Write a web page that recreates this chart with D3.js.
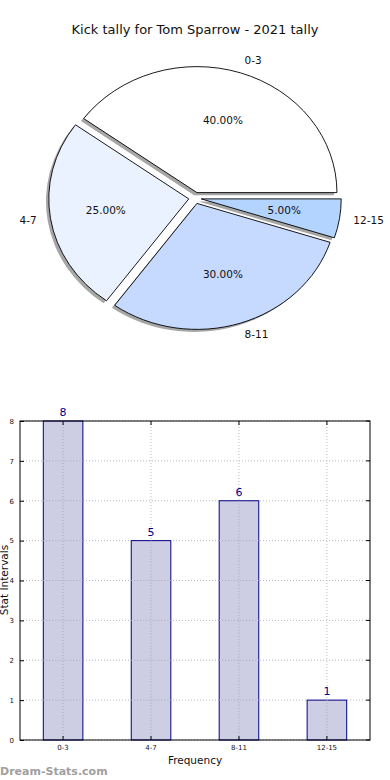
<!DOCTYPE html>
<html><head><meta charset="utf-8">
<script src="https://cdn.jsdelivr.net/npm/d3@7"></script>
<style>body{margin:0;background:#fff}svg{display:block;font-family:"DejaVu Sans",sans-serif}</style>
</head><body><svg id="c" width="390" height="780"></svg>
<script>
const categories = ["0-3","4-7","8-11","12-15"];
const counts = [8,5,6,1];
const pieColors = ["#ffffff","#eaf2ff","#c6d9ff","#b3d4ff"];
const yTicks = [0,1,2,3,4,5,6,7,8];
const title = "Kick tally for Tom Sparrow - 2021 tally";

const svg = d3.select("#c");
svg.append("text").attr("x",195).attr("y",30).attr("text-anchor","middle").attr("dominant-baseline","middle")
  .attr("font-size",13).attr("fill","#111").text(title);

// Pie (matplotlib style: start at 3 o'clock, counterclockwise, elliptical)
const cx=195, cy=198, rx=140, ry=126, R=100, explode=0.045;
const total = d3.sum(counts);
const pie = d3.pie().sort(null).startAngle(Math.PI/2).endAngle(Math.PI/2-2*Math.PI);
const arcs = pie(counts);
const arc = d3.arc().innerRadius(0).outerRadius(R);
const pg = svg.append("g");
function mplMid(a){ const d3mid=(a.startAngle+a.endAngle)/2; return Math.PI/2 - d3mid; }
arcs.forEach((a,i)=>{
  const th = mplMid(a);
  const ox = cx + explode*rx*Math.cos(th), oy = cy - explode*ry*Math.sin(th);
  pg.append("path").attr("d",arc(a))
    .attr("transform",`translate(${ox-0.02*rx},${oy+0.02*ry}) scale(${rx/R},${ry/R})`)
    .attr("fill","#000").attr("fill-opacity",0.35);
});
arcs.forEach((a,i)=>{
  const th = mplMid(a);
  const ox = cx + explode*rx*Math.cos(th), oy = cy - explode*ry*Math.sin(th);
  pg.append("path").attr("d",arc(a))
    .attr("transform",`translate(${ox},${oy}) scale(${rx/R},${ry/R})`)
    .attr("fill",pieColors[i]).attr("stroke","#000").attr("stroke-width",0.9)
    .attr("vector-effect","non-scaling-stroke");
  const lx = ox + 1.1*rx*Math.cos(th), ly = oy - 1.1*ry*Math.sin(th);
  pg.append("text").attr("x",lx).attr("y",ly).attr("dominant-baseline","middle")
    .attr("text-anchor", Math.cos(th)>=0?"start":"end").attr("font-size",10.5).attr("fill","#111")
    .text(categories[i]);
  const px = ox + 0.6*rx*Math.cos(th), py = oy - 0.6*ry*Math.sin(th);
  pg.append("text").attr("x",px).attr("y",py).attr("dominant-baseline","middle")
    .attr("text-anchor","middle").attr("font-size",10.5).attr("fill","#111")
    .text((counts[i]/total*100).toFixed(2)+"%");
});

// Bar chart
const L=20, Rr=370, T=421, B=740;
const pad = 0.49;
const x = d3.scaleLinear().domain([-pad, categories.length-1+pad]).range([L,Rr]);
const cxOf = i => x(i);
const bw = x(0.45)-x(0);
const y = d3.scaleLinear().domain([0,8]).range([B,T]);
const bg = svg.append("g");
const gridCol = "#bbb";
bg.selectAll(".gy").data(yTicks).enter().append("line")
  .attr("x1",L).attr("x2",Rr).attr("y1",d=>y(d)).attr("y2",d=>y(d))
  .attr("stroke",gridCol).attr("stroke-width",1).attr("stroke-dasharray","1,2");
categories.forEach((c,i)=>{
  bg.append("line").attr("x1",cxOf(i)).attr("x2",cxOf(i)).attr("y1",T).attr("y2",B)
    .attr("stroke",gridCol).attr("stroke-dasharray","1,2");
});
categories.forEach((c,i)=>{
  bg.append("rect").attr("x",cxOf(i)-bw/2).attr("y",y(counts[i])).attr("width",bw).attr("height",B-y(counts[i]))
    .attr("fill","#cdcde4").attr("stroke","#000088").attr("stroke-width",1);
  bg.append("line").attr("x1",cxOf(i)).attr("x2",cxOf(i)).attr("y1",y(counts[i])).attr("y2",B)
    .attr("stroke","#a9a9b8").attr("stroke-dasharray","1,2");
  yTicks.filter(t=>t>0&&t<counts[i]).forEach(t=>{
    bg.append("line").attr("x1",cxOf(i)-bw/2).attr("x2",cxOf(i)+bw/2).attr("y1",y(t)).attr("y2",y(t))
      .attr("stroke","#a9a9b8").attr("stroke-dasharray","1,2");
  });
  bg.append("text").attr("x",cxOf(i)).attr("y",y(counts[i])-5).attr("text-anchor","middle")
    .attr("font-size",11).attr("fill","#00008b").text(counts[i]);
});
bg.append("rect").attr("x",L).attr("y",T).attr("width",Rr-L).attr("height",B-T)
  .attr("fill","none").attr("stroke","#000").attr("stroke-width",1);
const yAxis = d3.axisLeft(y).tickValues(yTicks).tickSize(-4).tickPadding(6).tickFormat(d3.format("d"));
const ya = bg.append("g").attr("transform",`translate(${L},0)`).call(yAxis);
ya.select(".domain").remove();
ya.selectAll("text").attr("font-size",7).attr("font-family","DejaVu Sans").attr("fill","#111");
ya.selectAll("line").attr("stroke","#000");
categories.forEach((c,i)=>{
  bg.append("line").attr("x1",cxOf(i)).attr("x2",cxOf(i)).attr("y1",B).attr("y2",B-4).attr("stroke","#000");
  bg.append("line").attr("x1",cxOf(i)).attr("x2",cxOf(i)).attr("y1",T).attr("y2",T+4).attr("stroke","#000");
  bg.append("text").attr("x",cxOf(i)).attr("y",750).attr("text-anchor","middle").attr("font-size",7)
    .attr("fill","#111").text(c);
});
yTicks.forEach(t=>{
  bg.append("line").attr("x1",Rr).attr("x2",Rr-4).attr("y1",y(t)).attr("y2",y(t)).attr("stroke","#000");
});
bg.append("text").attr("x",195).attr("y",764).attr("text-anchor","middle").attr("font-size",10.5)
  .attr("fill","#111").text("Frequency");
bg.append("text").attr("transform","translate(8,580) rotate(-90)").attr("text-anchor","middle")
  .attr("font-size",10.5).attr("fill","#111").text("Stat Intervals");
svg.append("text").attr("x",0).attr("y",775).attr("font-size",11).attr("font-weight","bold")
  .attr("fill","#a0a0a0").text("Dream-Stats.com");
</script></body></html>
